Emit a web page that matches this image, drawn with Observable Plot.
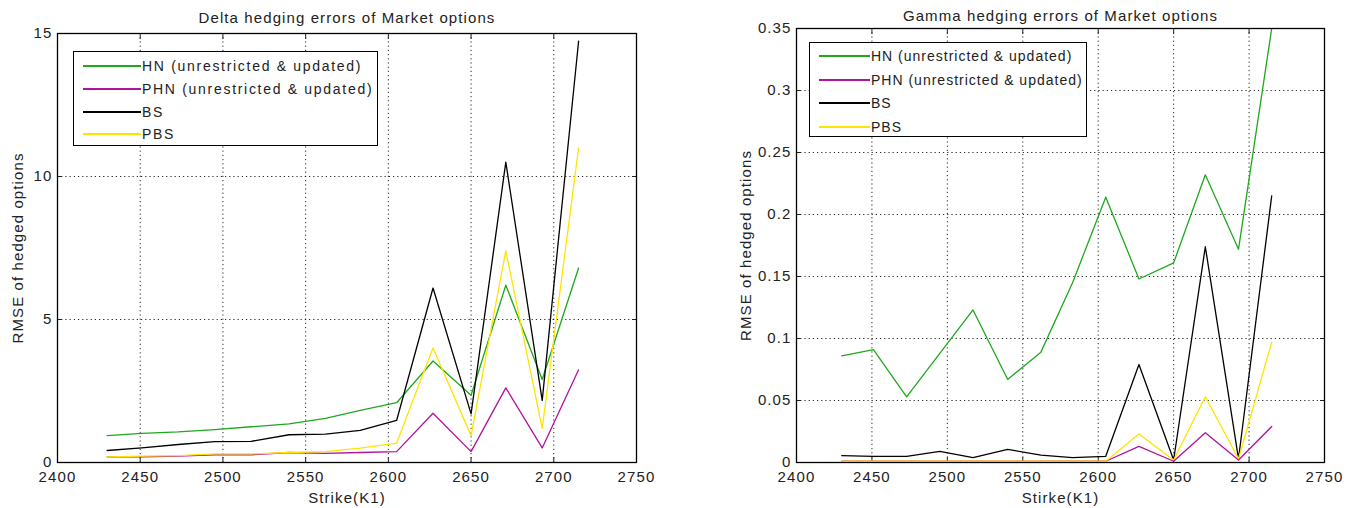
<!DOCTYPE html>
<html>
<head>
<meta charset="utf-8">
<script src="https://cdn.jsdelivr.net/npm/d3@7"></script>
<script src="https://cdn.jsdelivr.net/npm/@observablehq/plot@0.6"></script>
<style>
  html, body { margin: 0; padding: 0; background: #fff; }
  #wrap { position: relative; width: 1352px; height: 508px; overflow: hidden; font-family: "Liberation Sans", Arial, sans-serif; }
  .panel { position: absolute; top: 0; }
  .legend { position: absolute; border: 1.3px solid #000; background: #fff; box-sizing: border-box; font-size: 14px; color: #222; }
  .legend .row { position: absolute; display: flex; align-items: center; white-space: nowrap; height: 18px; }
  .legend .swatch { display: inline-block; height: 2px; }
</style>
</head>
<body>
<div id="wrap">
  <div id="left" class="panel" style="left:0"></div>
  <div id="right" class="panel" style="left:676px"></div>
</div>
<script>
// ---- data ----
const strikes = [2430, 2451, 2473, 2495, 2517, 2540, 2562, 2583, 2605, 2627, 2650, 2671, 2693, 2715];
const seriesNames = ["HN (unrestricted & updated)", "PHN (unrestricted & updated)", "BS", "PBS"];
const seriesColors = ["#1ea81e", "#b0139e", "#000000", "#ffe400"];

const deltaHN  = [0.94, 1.02, 1.07, 1.15, 1.25, 1.35, 1.54, 1.82, 2.09, 3.55, 2.35, 6.2, 2.9, 6.8];
const deltaPHN = [0.2, 0.2, 0.22, 0.27, 0.27, 0.35, 0.32, 0.35, 0.38, 1.72, 0.38, 2.61, 0.51, 3.24];
const deltaBS  = [0.42, 0.51, 0.63, 0.73, 0.74, 0.97, 0.99, 1.12, 1.47, 6.1, 1.7, 10.5, 2.17, 14.73];
const deltaPBS = [0.2, 0.22, 0.24, 0.3, 0.3, 0.35, 0.38, 0.5, 0.68, 4.0, 0.94, 7.4, 1.19, 11.0];

const gammaHN  = [0.086, 0.091, 0.053, 0.088, 0.123, 0.067, 0.089, 0.145, 0.214, 0.148, 0.161, 0.232, 0.172, 0.35];
const gammaPHN = [0.001, 0.001, 0.001, 0.001, 0.001, 0.001, 0.001, 0.001, 0.001, 0.013, 0.001, 0.024, 0.002, 0.029];
const gammaBS  = [0.0056, 0.005, 0.005, 0.009, 0.004, 0.0105, 0.006, 0.004, 0.005, 0.079, 0.002, 0.174, 0.003, 0.215];
const gammaPBS = [0.001, 0.001, 0.001, 0.001, 0.001, 0.001, 0.001, 0.001, 0.001, 0.023, 0.002, 0.053, 0.003, 0.097];

const xTicks = [2400, 2450, 2500, 2550, 2600, 2650, 2700, 2750];
const deltaTicks = [0, 5, 10, 15];
const gammaTicks = [0, 0.05, 0.1, 0.15, 0.2, 0.25, 0.3, 0.35];
const gammaTickLabels = ["0", "0.05", "0.1", "0.15", "0.2", "0.25", "0.3", "0.35"];

function rows(seriesArrays) {
  const out = [];
  seriesArrays.forEach((arr, si) => {
    arr.forEach((v, i) => out.push({x: strikes[i], y: v, s: seriesNames[si]}));
  });
  return out;
}

function makeChart(opts) {
  const data = rows(opts.series);
  return Plot.plot({
    width: 676,
    height: 508,
    marginLeft: opts.ml,
    marginRight: opts.mr,
    marginTop: opts.mt,
    marginBottom: 46,
    style: {fontFamily: "Liberation Sans, Arial, sans-serif", fontSize: "15px", letterSpacing: "1.1px", color: "#222", background: "#fff"},
    x: {domain: [2400, 2750]},
    y: {domain: opts.ydomain},
    color: {domain: seriesNames, range: seriesColors},
    marks: [
      Plot.gridX(xTicks.slice(1, -1), {stroke: "#000", strokeOpacity: 0.85, strokeDasharray: "1.2,3"}),
      Plot.gridY(opts.yticks.slice(1, -1), {stroke: "#000", strokeOpacity: 0.85, strokeDasharray: "1.2,3"}),
      Plot.axisX(xTicks, {anchor: "bottom", tickSize: -5, tickPadding: 14, tickFormat: d => String(d), label: opts.xlabel, labelAnchor: "center", labelArrow: "none", labelOffset: 40}),
      Plot.axisX(xTicks, {anchor: "top", tickSize: -5, tickFormat: () => "", label: null}),
      Plot.axisY(opts.yticks, {anchor: "left", tickSize: -5, tickPadding: 10, tickFormat: opts.yfmt, label: "RMSE of hedged options", labelAnchor: "center", labelArrow: "none", labelOffset: opts.ylabOff}),
      Plot.axisY(opts.yticks, {anchor: "right", tickSize: -5, tickFormat: () => "", label: null}),
      Plot.line(data, {x: "x", y: "y", z: "s", stroke: "s", strokeWidth: 1.3, clip: true}),
      Plot.frame({stroke: "#000", strokeWidth: 1.3}),
      Plot.text([opts.title], {text: d => d, frameAnchor: "top", dy: opts.titleDy, fill: "#222"})
    ]
  });
}

document.getElementById("left").appendChild(makeChart({
  series: [deltaHN, deltaPHN, deltaBS, deltaPBS],
  ydomain: [0, 15], yticks: deltaTicks, yfmt: d => String(d),
  ml: 57, mr: 40, mt: 33, ylabOff: 45,
  xlabel: "Strike(K1)", title: "Delta hedging errors of Market options", titleDy: -21
}));
document.getElementById("right").appendChild(makeChart({
  series: [gammaHN, gammaPHN, gammaBS, gammaPBS],
  ydomain: [0, 0.35], yticks: gammaTicks, yfmt: (d, i) => gammaTickLabels[i],
  ml: 120, mr: 28, mt: 28, ylabOff: 56,
  xlabel: "Stirke(K1)", title: "Gamma hedging errors of Market options", titleDy: -18
}));

function makeLegend(box) {
  const el = document.createElement("div");
  el.className = "legend";
  Object.assign(el.style, {left: box.left + "px", top: box.top + "px", width: box.width + "px", height: box.height + "px", letterSpacing: box.ls + "px"});
  seriesNames.forEach((name, i) => {
    const r = document.createElement("div");
    r.className = "row";
    r.style.top = Math.round(box.firstRow + i * box.rowStep - 9) + "px";
    r.style.left = box.swatchLeft + "px";
    const sw = document.createElement("span");
    sw.className = "swatch";
    sw.style.width = box.swatchW + "px";
    sw.style.background = seriesColors[i];
    const t = document.createElement("span");
    t.textContent = name;
    t.style.marginLeft = "1px";
    r.appendChild(sw); r.appendChild(t);
    el.appendChild(r);
  });
  document.getElementById("wrap").appendChild(el);
}
makeLegend({left: 73, top: 51, width: 305, height: 95, firstRow: 14, rowStep: 22.8, swatchLeft: 9, swatchW: 58, ls: 1.7});
makeLegend({left: 809, top: 42, width: 278, height: 95, firstRow: 13, rowStep: 23.7, swatchLeft: 9, swatchW: 51, ls: 1.0});
</script>
</body>
</html>
